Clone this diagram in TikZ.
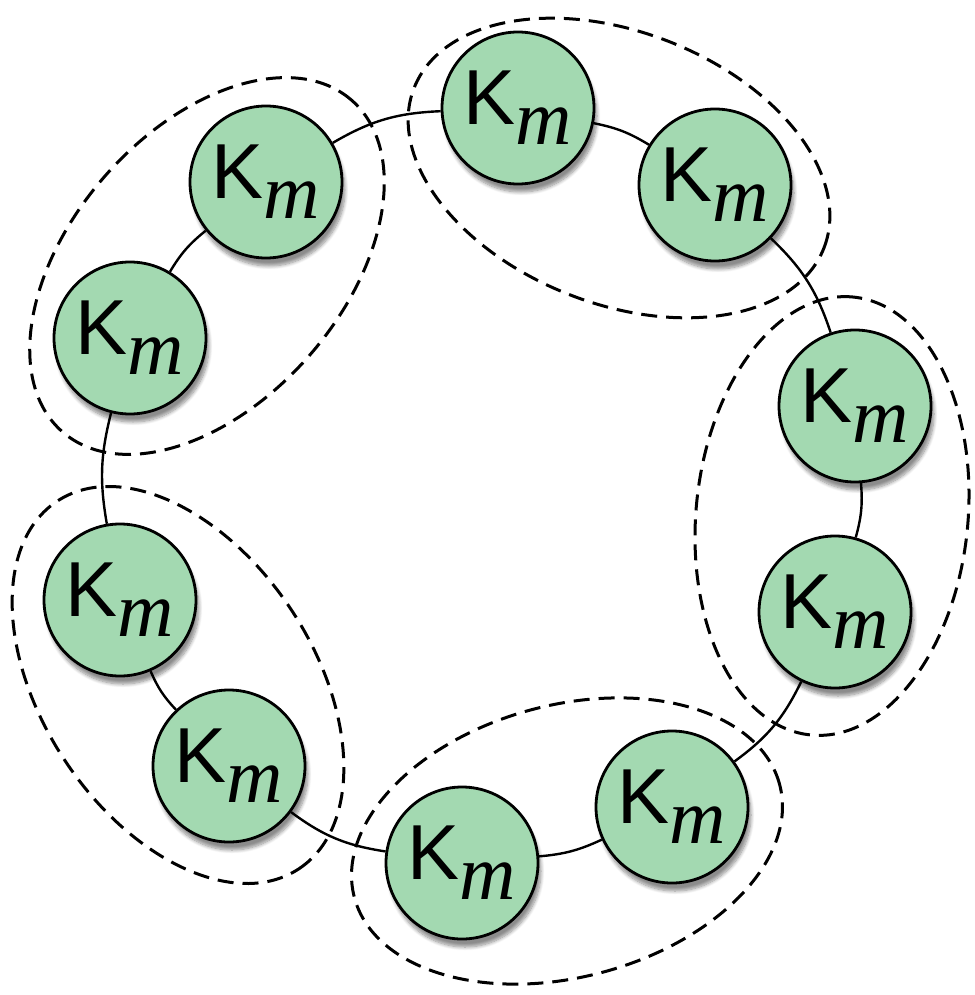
\documentclass[tikz,border=0pt]{standalone}
\usepackage{fontspec}
\setsansfont{Liberation Sans}
\newfontfamily\mfont{Liberation Serif}
\usetikzlibrary{shapes.geometric,shadows.blur}
\definecolor{kgreen}{RGB}{163,217,177}
\newcommand{\Km}{\textsf{K}\raisebox{-0.26em}{\mfont\itshape m}}

\begin{document}
\begin{tikzpicture}[x=0.5pt,y=-0.5pt,
    knode/.style={circle, draw=black, line width=1.4pt, fill=kgreen,
      minimum size=76pt, inner sep=0pt, font=\fontsize{39}{41}\selectfont,
      blur shadow={shadow blur steps=8, shadow xshift=1.5pt, shadow yshift=-4pt, shadow opacity=45}},
    group/.style={ellipse, draw=black, line width=1.5pt, dash pattern=on 8pt off 4.5pt,
      minimum width=220pt, minimum height=136pt, inner sep=0pt},
    ring/.style={line width=1.2pt}]

    \useasboundingbox (0,0) rectangle (974,995);

    % Pairs
    \node[group, rotate=48.9] (gA) at (207,266) {};
    \node[group, rotate=-21.3] (gB) at (619,168) {};
    \node[group, rotate=84.5] (gC) at (832,516) {};
    \node[group, rotate=-56.7] (gD) at (178,685) {};
    \node[group, rotate=14.9] (gE) at (567,841) {};

    % Ring nodes
    \node[knode] (k1) at (266,182) {\Km};
    \node[knode] (k2) at (130,338) {\Km};
    \node[knode] (k3) at (518,108) {\Km};
    \node[knode] (k4) at (715,185) {\Km};
    \node[knode] (k5) at (855,406) {\Km};
    \node[knode] (k6) at (835,612) {\Km};
    \node[knode] (k7) at (120,600) {\Km};
    \node[knode] (k8) at (229,766) {\Km};
    \node[knode] (k9) at (462,863) {\Km};
    \node[knode] (k10) at (672,807) {\Km};

    % Ring
    \draw[ring] (k1) to[bend left=14] (k3);
    \draw[ring] (k3) to[bend left=10] (k4);
    \draw[ring] (k4) to[bend left=14] (k5);
    \draw[ring] (k5) to[bend left=10] (k6);
    \draw[ring] (k6) to[bend left=14] (k10);
    \draw[ring] (k10) to[bend left=10] (k9);
    \draw[ring] (k9) to[bend left=14] (k8);
    \draw[ring] (k8) to[bend left=10] (k7);
    \draw[ring] (k7) to[bend left=12] (k2);
    \draw[ring] (k2) to[bend left=10] (k1);

\end{tikzpicture}
\end{document}
